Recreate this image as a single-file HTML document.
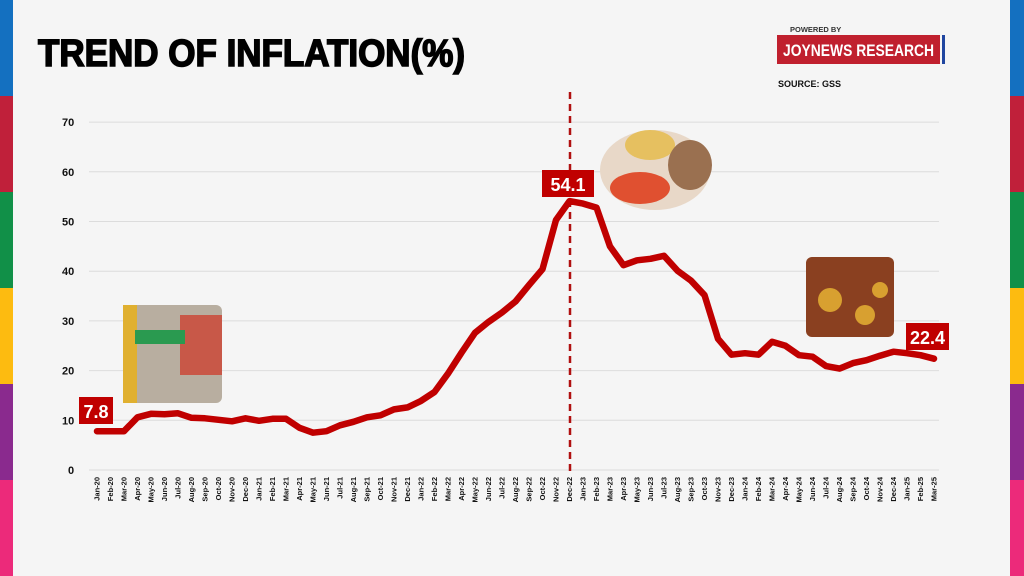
<!DOCTYPE html>
<html><head><meta charset="utf-8"><style>
html,body{margin:0;padding:0;background:#f5f5f5;}
svg{display:block;font-family:"Liberation Sans",sans-serif;}
</style></head><body>
<svg id="s" width="1024" height="576" viewBox="0 0 1024 576" xmlns="http://www.w3.org/2000/svg">
<rect width="1024" height="576" fill="#f5f5f5"/>
<g id="stripes"></g>
<text x="38" y="66" font-size="38" font-weight="bold" fill="#000" stroke="#000" stroke-width="1.6" textLength="427" lengthAdjust="spacingAndGlyphs">TREND OF INFLATION(%)</text>
<text x="790" y="32" font-size="7.5" font-weight="bold" fill="#333">POWERED BY</text>
<rect x="777" y="35" width="163" height="29" fill="#c0202e"/>
<rect x="942" y="35" width="3" height="29" fill="#2046a0"/>
<text x="783" y="56" font-size="17" font-weight="bold" fill="#fff" textLength="151" lengthAdjust="spacingAndGlyphs">JOYNEWS RESEARCH</text>
<text x="778" y="87" font-size="9" font-weight="bold" fill="#111">SOURCE: GSS</text>
<g id="grid"></g>
<g id="xl"></g>
<line x1="570" y1="92" x2="570" y2="472" stroke="#b01010" stroke-width="2.5" stroke-dasharray="7,5"/>
<polyline id="ln" fill="none" stroke="#c00000" stroke-width="6.5" stroke-linejoin="round" stroke-linecap="round"/>
<rect x="123" y="305" width="99" height="98" rx="6" fill="#b8aea0"/>
<rect x="123" y="305" width="14" height="98" fill="#e0b030"/>
<rect x="180" y="315" width="42" height="60" fill="#c85848"/>
<rect x="135" y="330" width="50" height="14" fill="#2a9a50"/>
<ellipse cx="655" cy="170" rx="55" ry="40" fill="#e8d8c8"/>
<ellipse cx="650" cy="145" rx="25" ry="15" fill="#e6c060"/>
<ellipse cx="640" cy="188" rx="30" ry="16" fill="#e05030"/>
<ellipse cx="690" cy="165" rx="22" ry="25" fill="#9a7050"/>
<rect x="806" y="257" width="88" height="80" rx="6" fill="#8a4020"/>
<circle cx="830" cy="300" r="12" fill="#d8a030"/><circle cx="865" cy="315" r="10" fill="#d8a030"/><circle cx="880" cy="290" r="8" fill="#d8a030"/>
<g id="lab"></g>
</svg>
<script>
var s="http://www.w3.org/2000/svg";
function el(t,a,txt){var e=document.createElementNS(s,t);for(var k in a)e.setAttribute(k,a[k]);if(txt)e.textContent=txt;return e;}
var st=document.getElementById('stripes');
var cols=['#1470c0','#c0203a','#119048','#fdbb10','#8a2a8e','#ec2a7a'];
for(var i=0;i<6;i++){st.appendChild(el('rect',{x:0,y:i*96,width:13,height:96,fill:cols[i]}));st.appendChild(el('rect',{x:1010,y:i*96,width:14,height:96,fill:cols[i]}));}
var g=document.getElementById('grid');
function Y(v){return 470-v*4.97;}
for(var v=0;v<=70;v+=10){g.appendChild(el('line',{x1:89,x2:939,y1:Y(v),y2:Y(v),stroke:'#dcdcdc','stroke-width':1}));
g.appendChild(el('text',{x:v==0?68:62,y:Y(v)+4,'font-size':11,'font-weight':'bold',fill:'#111'},String(v)));}
var d=[7.8,7.8,7.8,10.6,11.3,11.2,11.4,10.5,10.4,10.1,9.8,10.4,9.9,10.3,10.3,8.5,7.5,7.8,9.0,9.7,10.6,11.0,12.2,12.6,13.9,15.7,19.4,23.6,27.6,29.8,31.7,33.9,37.2,40.4,50.3,54.1,53.6,52.8,45.0,41.2,42.2,42.5,43.1,40.1,38.1,35.2,26.4,23.2,23.5,23.2,25.8,25.0,23.1,22.8,20.9,20.4,21.5,22.1,23.0,23.8,23.5,23.1,22.4];
var m=['Jan','Feb','Mar','Apr','May','Jun','Jul','Aug','Sep','Oct','Nov','Dec'];
var pts=[],xl=document.getElementById('xl');
for(var i=0;i<d.length;i++){var x=97+i*13.5;pts.push(x.toFixed(1)+','+Y(d[i]).toFixed(1));
var lbl=m[i%12]+'-'+(20+Math.floor(i/12));
var t=el('text',{x:0,y:0,'font-size':7.5,'font-weight':'bold',fill:'#111','text-anchor':'end',transform:'translate('+(x+2.5)+',477) rotate(-90)'},lbl);xl.appendChild(t);}
document.getElementById('ln').setAttribute('points',pts.join(' '));
var lab=document.getElementById('lab');
function box(x,y,w,h,t){lab.appendChild(el('rect',{x:x,y:y,width:w,height:h,fill:'#c00000'}));lab.appendChild(el('text',{x:x+w/2,y:y+h-6,'font-size':18,'font-weight':'bold',fill:'#fff','text-anchor':'middle'},t));}
box(79,397,34,27,'7.8');box(542,170,52,27,'54.1');box(906,323,43,27,'22.4');
</script>
</body></html>
